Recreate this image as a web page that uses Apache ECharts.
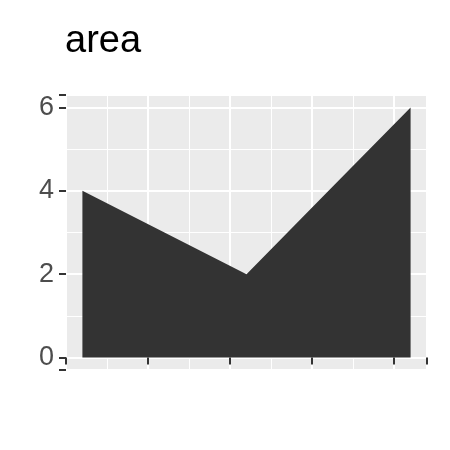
<!DOCTYPE html>
<html><head><meta charset="utf-8">
<script src="https://cdn.jsdelivr.net/npm/echarts@6/dist/echarts.min.js"></script>
<style>html,body{margin:0;padding:0;background:#fff}#c{width:450px;height:450px}</style>
</head><body><div id="c"></div>
<script>
const xs = [1, 2, 3, 4, 5];
const ys = [4, 3, 2, 4, 6];
const title = "area";
const chart = echarts.init(document.getElementById('c'));
const lbl = {color:'#4d4d4d', fontSize:27, fontFamily:'Liberation Sans, Arial, sans-serif'};
chart.setOption({
  animation:false,
  title:{text:title, left:60, top:18, textStyle:{fontSize:38, fontWeight:'normal', color:'#000', fontFamily:'Liberation Sans, Arial, sans-serif'}},
  grid:{left:66, right:23, top:95, bottom:80, show:true, backgroundColor:'#ebebeb', borderWidth:0},
  xAxis:{type:'value', min:0.8, max:5.2, interval:1,
    axisLine:{show:false}, axisTick:{show:true, length:7, lineStyle:{color:'#333', width:2}},
    axisLabel:Object.assign({margin:12, formatter:v=>(Math.abs(v-Math.round(v))<1e-6 && v>=1 && v<=5)?String(Math.round(v)):''}, lbl),
    splitLine:{show:true, lineStyle:{color:'#fff', width:2}},
    minorTick:{show:false, splitNumber:2}, minorSplitLine:{show:true, lineStyle:{color:'#fff', width:1}}},
  yAxis:{type:'value', min:-0.3, max:6.3, splitNumber:3,
    axisLine:{show:false}, axisTick:{show:true, length:7, lineStyle:{color:'#333', width:2}},
    axisLabel:Object.assign({margin:12, formatter:v=>(Math.abs(v-Math.round(v))<1e-6 && v>=0)?String(Math.round(v)):''}, lbl),
    splitLine:{show:true, lineStyle:{color:'#fff', width:2}},
    minorTick:{show:false, splitNumber:2}, minorSplitLine:{show:true, lineStyle:{color:'#fff', width:1}}},
  series:[{type:'line', data:xs.map((x,i)=>[x,ys[i]]), symbol:'none',
    lineStyle:{color:'#333333', width:0}, areaStyle:{color:'#333333', opacity:1, origin:0}}]
});
</script></body></html>
